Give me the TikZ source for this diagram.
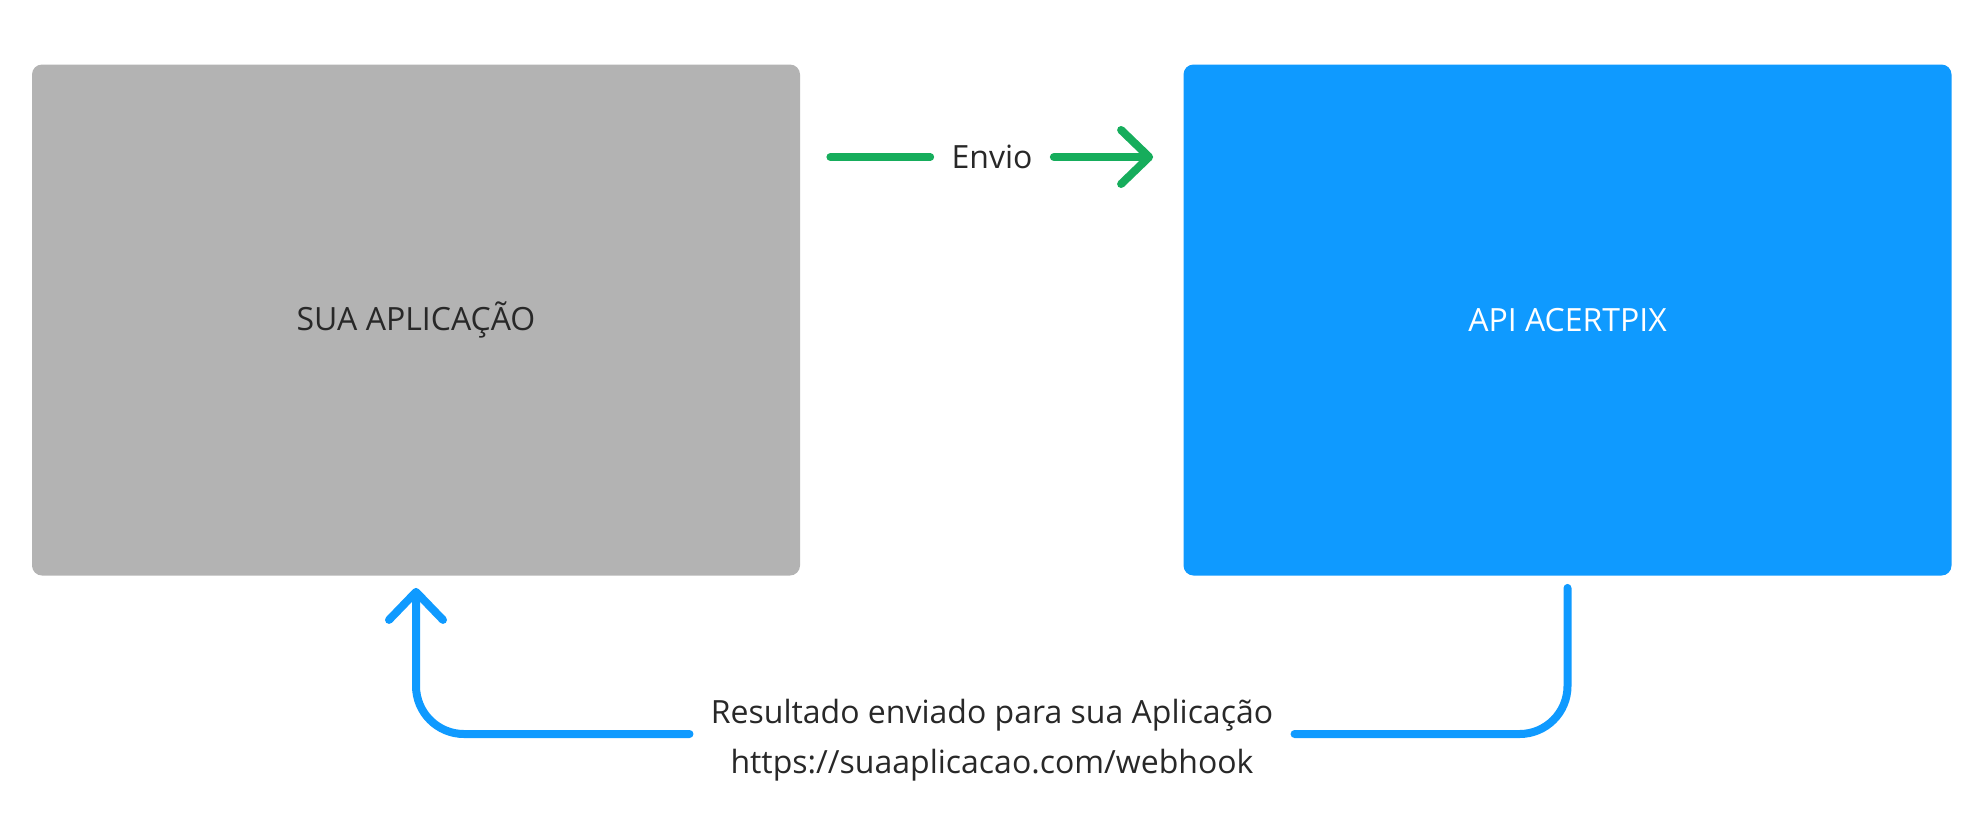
\documentclass[tikz,border=0pt]{standalone}
\usepackage{fontspec}
\setmainfont{Open Sans}
\usetikzlibrary{arrows.meta}
\definecolor{appgray}{HTML}{B3B3B3}
\definecolor{apiblue}{HTML}{0F9AFF}
\definecolor{sendgreen}{HTML}{16AD5C}
\definecolor{labeltext}{HTML}{282828}
\begin{document}
\begin{tikzpicture}[x=0.5pt,y=-0.5pt,
  font=\fontsize{16}{25.3}\selectfont,
  block/.style={rectangle,rounded corners=5pt,minimum width=384pt,minimum height=255.5pt,inner sep=0pt},
  sendline/.style={line width=4pt,line cap=round,sendgreen},
  backline/.style={line width=4pt,line cap=round,apiblue,rounded corners=24pt},
  barb/.style={-{Straight Barb[round,length=14pt,width=27pt]}}]
  \useasboundingbox (0,0) rectangle (1984,832);
  \node[block,fill=appgray,text=labeltext] (app) at (416,320) {SUA APLICAÇÃO};
  \node[block,fill=apiblue,text=white] (api) at (1567.5,320) {API ACERTPIX};
  \node[text=labeltext,inner xsep=10.5pt] (envio) at (992,157) {Envio};
  \node[text=labeltext,align=center,inner xsep=10.5pt] (result) at (992,740)
    {Resultado enviado para sua Aplicação\\https://suaaplicacao.com/webhook};
  \draw[sendline] (app.east |- envio) ++(15pt,0) -- (envio.west);
  \draw[sendline,barb] (envio.east) -- ([xshift=-15pt]api.west |- envio);
  \draw[backline] ([yshift=-6pt]api.south) |- ([yshift=3pt]result.east);
  \draw[backline,barb] ([yshift=3pt]result.west) -| ([yshift=-6pt]app.south);
\end{tikzpicture}
\end{document}
